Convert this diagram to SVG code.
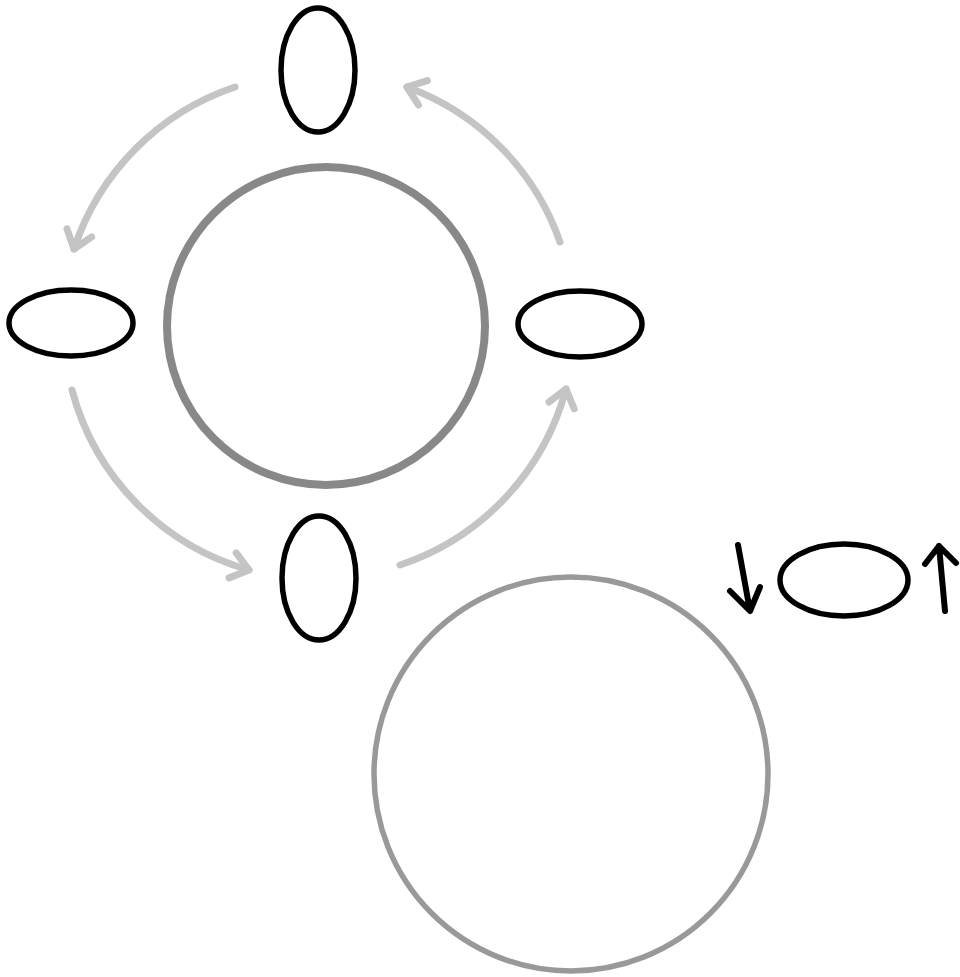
<svg xmlns="http://www.w3.org/2000/svg" width="960" height="977" viewBox="0 0 960 977">
<style>
.node{fill:none;stroke:#000;stroke-width:5.5}
.arc{fill:none;stroke:#c4c4c4;stroke-width:7;stroke-linecap:round}
.blk{fill:none;stroke:#000;stroke-width:6;stroke-linecap:round;stroke-linejoin:round}
</style>
<defs>
<marker id="ah" markerUnits="userSpaceOnUse" markerWidth="40" markerHeight="40" viewBox="-25 -20 30 40" refX="0" refY="0" orient="auto">
<path d="M-17,-13 L0,0 L-17,13" fill="none" stroke="#c4c4c4" stroke-width="7" stroke-linecap="round" stroke-linejoin="round"/>
</marker>
</defs>
<rect width="960" height="977" fill="#fff"/>
<g id="big-circle-top"><circle cx="326" cy="326" r="159" fill="none" stroke="#888" stroke-width="8"/></g>
<g id="big-circle-bottom"><circle cx="571" cy="774" r="197" fill="none" stroke="#999" stroke-width="5.5"/></g>
<g id="ellipse-top"><ellipse class="node" cx="318" cy="70" rx="37" ry="62"/></g>
<g id="ellipse-left"><ellipse class="node" cx="71" cy="323" rx="62" ry="33"/></g>
<g id="ellipse-right"><ellipse class="node" cx="580" cy="324" rx="62" ry="33"/></g>
<g id="ellipse-bottom"><ellipse class="node" cx="319" cy="578" rx="37" ry="62"/></g>
<g id="ellipse-small"><ellipse class="node" cx="844" cy="580" rx="64" ry="36"/></g>
<g id="connectors">
<path class="arc" d="M560,242 A255,255 0 0 0 407,87" marker-end="url(#ah)"/>
<path class="arc" d="M235,87 A255,255 0 0 0 74,249" marker-end="url(#ah)"/>
<path class="arc" d="M72,390 A255,255 0 0 0 249,570" marker-end="url(#ah)"/>
<path class="arc" d="M400,565 A255,255 0 0 0 566,389" marker-end="url(#ah)"/>
<path class="blk" d="M738,545 L750,611 M730,591 L750,611 L760,587"/>
<path class="blk" d="M945,611 L939,546 M925,564 L939,546 L956,563"/>
</g>
</svg>
